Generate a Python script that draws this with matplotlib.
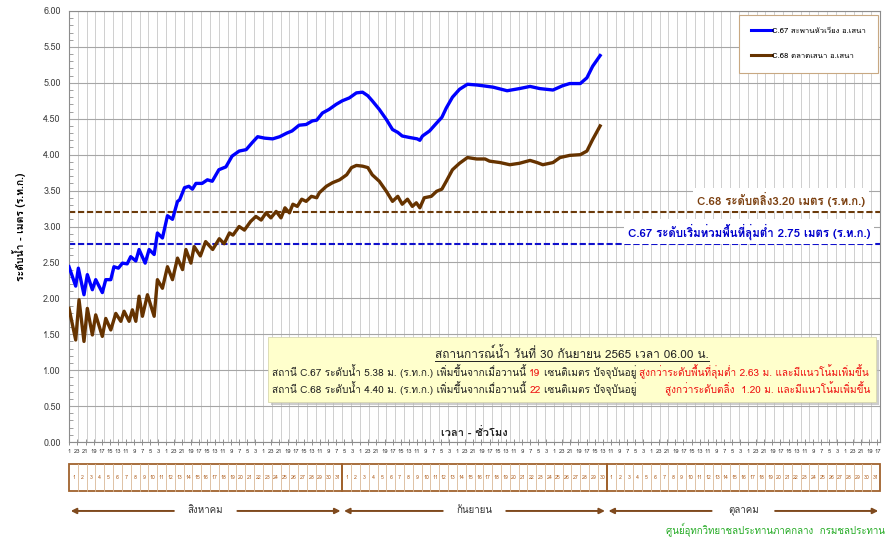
import matplotlib
matplotlib.use('Agg')
import matplotlib.pyplot as plt
import matplotlib.transforms as mtransforms
from matplotlib.patches import Rectangle
from matplotlib.lines import Line2D
from matplotlib.ticker import MultipleLocator
import numpy as np

# Loma carries the Thai glyphs (Tahoma-like), DejaVu as fallback
plt.rcParams['font.family'] = ['Loma', 'DejaVu Sans']

# --- data: water level (m, MSL) vs. time in days from 1 Aug 00:00 ---
c67_day = [0.00, 0.76, 1.06, 1.70, 2.08, 2.65, 3.03, 3.78, 4.17, 4.74,
           5.10, 5.60, 6.06, 6.60, 7.00, 7.58, 7.95, 8.64, 9.09, 9.66,
           10.03, 10.60, 11.17, 11.74, 12.31, 12.55, 13.10, 13.60, 14.00, 14.40,
           15.10, 15.70, 16.25, 17.00, 17.80, 18.50, 19.30, 20.10, 20.80, 21.40,
           22.20, 23.10, 23.90, 24.70, 25.30, 26.10, 26.90, 27.60, 28.10, 28.75,
           29.50, 30.30, 31.00, 31.80, 32.60, 33.30, 33.90, 34.40, 35.20, 36.00,
           36.70, 37.30, 37.80, 38.60, 39.50, 39.80, 40.10, 40.90, 41.70, 42.30,
           42.80, 43.50, 44.30, 45.20, 46.25, 46.90, 48.10, 49.70, 51.10, 52.30,
           53.40, 54.90, 56.00, 56.80, 58.00, 58.75, 59.40, 60.25]
c67_level = [2.44, 2.17, 2.42, 2.05, 2.33, 2.12, 2.26, 2.08, 2.26, 2.26,
             2.44, 2.42, 2.49, 2.48, 2.58, 2.52, 2.68, 2.49, 2.68, 2.61,
             2.91, 2.84, 3.15, 3.10, 3.35, 3.37, 3.54, 3.56, 3.52, 3.60,
             3.60, 3.65, 3.63, 3.79, 3.83, 3.98, 4.05, 4.07, 4.17, 4.25,
             4.23, 4.22, 4.25, 4.30, 4.33, 4.41, 4.42, 4.47, 4.48, 4.58,
             4.63, 4.70, 4.75, 4.79, 4.86, 4.87, 4.82, 4.75, 4.63, 4.49,
             4.35, 4.31, 4.26, 4.24, 4.22, 4.20, 4.26, 4.33, 4.44, 4.52,
             4.65, 4.80, 4.91, 4.98, 4.97, 4.96, 4.94, 4.89, 4.92, 4.95,
             4.92, 4.90, 4.96, 4.99, 4.99, 5.07, 5.23, 5.38]

c68_day = [0.00, 0.76, 1.14, 1.70, 2.08, 2.65, 3.03, 3.78, 4.17, 4.74,
           5.31, 5.88, 6.25, 6.82, 7.19, 7.58, 7.95, 8.33, 8.90, 9.66,
           10.03, 10.60, 11.17, 11.74, 12.31, 12.88, 13.26, 13.83, 14.20, 14.90,
           15.50, 16.30, 17.05, 17.60, 18.20, 18.60, 19.30, 19.90, 20.60, 21.20,
           21.80, 22.35, 22.90, 23.50, 24.05, 24.50, 25.00, 25.40, 25.90, 26.40,
           26.90, 27.50, 28.10, 28.40, 29.20, 29.90, 30.70, 31.50, 32.05, 32.60,
           33.30, 33.90, 34.40, 35.20, 36.00, 36.70, 37.30, 37.80, 38.40, 38.95,
           39.40, 39.80, 40.30, 41.10, 41.70, 42.30, 42.80, 43.50, 44.30, 45.20,
           46.25, 47.20, 47.70, 48.90, 50.00, 51.10, 52.30, 53.10, 53.75, 54.90,
           55.70, 56.80, 58.00, 58.75, 59.40, 60.25]
c68_level = [1.86, 1.42, 1.98, 1.40, 1.86, 1.49, 1.77, 1.47, 1.72, 1.56,
             1.79, 1.68, 1.82, 1.68, 1.84, 1.68, 2.03, 1.75, 2.05, 1.75,
             2.26, 2.14, 2.44, 2.26, 2.56, 2.40, 2.68, 2.49, 2.72, 2.59,
             2.79, 2.68, 2.83, 2.76, 2.91, 2.88, 3.00, 2.95, 3.07, 3.14,
             3.09, 3.19, 3.12, 3.21, 3.12, 3.26, 3.19, 3.31, 3.28, 3.38,
             3.35, 3.42, 3.40, 3.47, 3.56, 3.61, 3.65, 3.72, 3.82, 3.85,
             3.84, 3.82, 3.72, 3.63, 3.49, 3.35, 3.42, 3.31, 3.38, 3.28,
             3.33, 3.26, 3.40, 3.42, 3.49, 3.52, 3.63, 3.79, 3.88, 3.96,
             3.94, 3.94, 3.91, 3.89, 3.86, 3.88, 3.92, 3.89, 3.86, 3.89,
             3.96, 3.99, 4.00, 4.05, 4.21, 4.40]

c67_name = 'C.67 สะพานหัวเวียง อ.เสนา'
c68_name = 'C.68 ตลาดเสนา อ.เสนา'
c67_flood = 2.75   # เริ่มท่วมพื้นที่ลุ่มต่ำ
c68_bank = 3.20    # ระดับตลิ่ง

month_names = ['สิงหาคม', 'กันยายน', 'ตุลาคม']
month_days = [31, 30, 31]

BLUE = '#0000ff'
BROWN = '#663300'
BOXBROWN = '#a0622d'

fig = plt.figure(figsize=(8.88, 5.42), dpi=100)
ax = fig.add_axes([69 / 888, 1 - 442 / 542, 811 / 888, 431 / 542])
n_days = sum(month_days)

# gridlines
ax.set_xlim(0, n_days)
ax.set_ylim(0, 6)
ax.set_yticks(np.arange(0, 6.01, 0.5))
ax.set_yticklabels(['%.2f' % v for v in np.arange(0, 6.01, 0.5)])
ax.yaxis.set_minor_locator(MultipleLocator(0.1))
ax.xaxis.set_minor_locator(MultipleLocator(1))
ax.grid(axis='y', which='major', color='#a6a6a6', lw=0.8, zorder=0)
ax.grid(axis='x', which='minor', color='#c8c8c8', lw=0.6, zorder=0)
ax.set_axisbelow(True)

# hour ticks every 22 h, labelled with the hour of day
hours = np.arange(1, n_days * 24, 22)
ax.set_xticks(hours / 24)
ax.set_xticklabels([str(h % 24) for h in hours])
ax.tick_params(axis='x', which='major', direction='inout', length=4, width=0.6,
               color='#808080', labelsize=4.2, pad=3, labelcolor='#333333')
ax.tick_params(axis='x', which='minor', length=0)
ax.tick_params(axis='y', which='major', length=0, labelsize=6.5, labelcolor='#404040', pad=6)
ax.tick_params(axis='y', which='minor', direction='in', length=3, width=0.6, color='#909090')
for s in ax.spines.values():
    s.set_color('#8c8c8c')
    s.set_linewidth(0.8)

# threshold lines
ax.axhline(c68_bank, color='#6b3a0a', lw=1.5, ls=(0, (3, 1.3)), zorder=2)
ax.axhline(c67_flood, color='#1010cc', lw=1.5, ls=(0, (3, 1.3)), zorder=2)
ax.text(90.3, 3.375, 'C.68 ระดับตลิ่ง3.20 เมตร (ร.ท.ก.)', color='#7b3f0f',
        fontsize=8.3, fontweight='bold', ha='right', va='center', zorder=3,
        bbox=dict(facecolor='white', edgecolor='none', pad=3))
ax.text(90.9, 2.93, 'C.67 ระดับเริ่มท่วมพื้นที่ลุ่มต่ำ 2.75 เมตร (ร.ท.ก.)', color='#0000cc',
        fontsize=8.3, fontweight='bold', ha='right', va='center', zorder=3,
        bbox=dict(facecolor='white', edgecolor='none', pad=3))

# water level series
ax.plot(c67_day, c67_level, color=BLUE, lw=2.4, label=c67_name, zorder=4)
ax.plot(c68_day, c68_level, color=BROWN, lw=2.4, label=c68_name, zorder=4)

leg = ax.legend(loc='upper right', bbox_to_anchor=(0.9975, 0.991), fontsize=5.6,
                frameon=True, fancybox=False, framealpha=1, edgecolor='#c8a882',
                borderpad=1.6, labelspacing=2.3, handlelength=2.6, handletextpad=0.0,
                borderaxespad=0)
leg.get_frame().set_linewidth(0.8)
for line in leg.get_lines():
    line.set_linewidth(2.2)

ax.set_ylabel('ระดับน้ำ - เมตร (ร.ท.ก.)', fontsize=7.5, fontweight='bold', labelpad=12)
ax.text(sum(month_days[:1]) + month_days[1] / 2, 0.021, 'เวลา - ชั่วโมง',
        transform=mtransforms.blended_transform_factory(ax.transData, ax.transAxes),
        ha='center', va='center', fontsize=8, fontweight='bold', color='#222222')

# --- status box ---
bx0, bx1, by0, by1 = 0.2454, 0.995, 0.0928, 0.2436
ax.add_patch(Rectangle((bx0 + 0.004, by0 - 0.008), bx1 - bx0, by1 - by0, transform=ax.transAxes,
                       facecolor='#b8b8b8', edgecolor='none', zorder=5, alpha=0.7))
ax.add_patch(Rectangle((bx0, by0), bx1 - bx0, by1 - by0, transform=ax.transAxes,
                       facecolor='#ffffcc', edgecolor='#d8d8b0', lw=0.6, zorder=6))

title = ax.text((bx0 + bx1) / 2, 0.2065, 'สถานการณ์น้ำ วันที่ 30 กันยายน 2565 เวลา 06.00 น.',
                transform=ax.transAxes, ha='center', va='center', fontsize=8.5,
                color='#222222', zorder=7)

renderer = fig.canvas.get_renderer()


def colored_line(x, y, parts, size):
    gap = size * 0.32 * fig.dpi / 72 / ax.bbox.width
    for s, c in parts:
        t = ax.text(x, y, s, transform=ax.transAxes, ha='left', va='baseline',
                    fontsize=size, color=c, zorder=7)
        x += t.get_window_extent(renderer).width / ax.bbox.width + gap


BLACK = '#222222'
RED = '#ee1111'
colored_line(0.2503, 0.152, [('สถานี C.67 ระดับน้ำ 5.38 ม. (ร.ท.ก.) เพิ่มขึ้นจากเมื่อวานนี้', BLACK),
                             ('19', RED), ('เซนติเมตร ปัจจุบันอยู่', BLACK),
                             ('สูงกว่าระดับพื้นที่ลุ่มต่ำ 2.63 ม. และมีแนวโน้มเพิ่มขึ้น', RED)], 7.25)
colored_line(0.2503, 0.113, [('สถานี C.68 ระดับน้ำ 4.40 ม. (ร.ท.ก.) เพิ่มขึ้นจากเมื่อวานนี้', BLACK),
                             ('22', RED), ('เซนติเมตร ปัจจุบันอยู่', BLACK)], 7.25)
ax.text(0.9877, 0.113, 'สูงกว่าระดับตลิ่ง  1.20 ม. และมีแนวโน้มเพิ่มขึ้น', transform=ax.transAxes,
        ha='right', va='baseline', fontsize=7.25, color=RED, zorder=7)

# underline the box title
tb = title.get_window_extent(renderer).transformed(fig.transFigure.inverted())
fig.add_artist(Line2D([tb.x0, tb.x1], [tb.y0 - 0.002, tb.y0 - 0.002], color='#222222', lw=0.7))

# --- calendar strip under the axis ---
trans = mtransforms.blended_transform_factory(ax.transData, ax.transAxes)
cy0, cy1, cy_txt, ay = -0.1137, -0.051, -0.082, -0.160
start = 0
for name, nd in zip(month_names, month_days):
    for d in range(1, nd):
        ax.plot([start + d, start + d], [cy0, cy1], color='#d9b896', lw=0.6,
                transform=trans, clip_on=False)
    for d in range(nd):
        ax.text(start + d + 0.5, cy_txt, str(d + 1), transform=trans, ha='center', va='center',
                fontsize=3.8, color='#b06020')
    ax.add_patch(Rectangle((start, cy0), nd, cy1 - cy0, transform=trans, fill=False,
                           edgecolor=BOXBROWN, lw=1.3, clip_on=False))
    mid = start + nd / 2
    ax.text(mid, ay, name, transform=trans, ha='center', va='center', fontsize=7, color='#333333')
    for tip, tail in ((start + 0.2, mid - 3.6), (start + nd - 0.2, mid + 3.6)):
        ax.annotate('', xy=(tip, ay), xytext=(tail, ay), xycoords=trans, textcoords=trans,
                    arrowprops=dict(arrowstyle='-|>', color='#7f4a1e', lw=1.4,
                                    mutation_scale=8, shrinkA=0, shrinkB=0),
                    annotation_clip=False)
    start += nd

fig.text(885 / 888, 1 - 530 / 542, 'ศูนย์อุทกวิทยาชลประทานภาคกลาง  กรมชลประทาน',
         ha='right', va='center', fontsize=7, color='#22aa22')

fig.savefig('out.png', dpi=100)
